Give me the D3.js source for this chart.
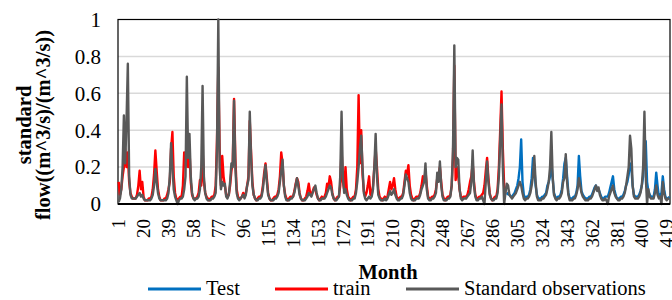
<!DOCTYPE html>
<html>
<head>
  <meta charset="UTF-8">
  <title></title>
  <style>
    body{
      margin:0;
      background:#fff;
    }
    svg text{
      font-family: "Liberation Serif", "Times New Roman", "DejaVu Serif", serif;
    }
    .grid line{
      stroke:#d9d9d9;
      stroke-width:1.5;
    }
    .xlabel, .ylabel{
      font-size:19px;
      fill:#000;
    }
    .series{
      fill:none;
      stroke-width:2.4;
      stroke-linejoin:round;
    }
  </style>
</head>
<body>
  <script src="https://d3js.org/d3.v7.min.js"></script>
  <script>
    // standard observations, months 1..421
    var observed = [
      0.01,0.03,0.08,0.2,0.48,0.22,0.45,0.76,0.15,0.05,0.03,0.03,
      0.03,0.03,0.04,0.05,0.06,0.04,0.05,0.03,0.02,0.02,0.02,0.02,
      0.02,0.03,0.05,0.1,0.19,0.12,0.06,0.03,0.02,0.02,0.02,0.02,
      0.02,0.03,0.06,0.15,0.33,0.2,0.08,0.04,0.02,0.0,0.02,0.03,
      0.03,0.04,0.08,0.15,0.69,0.25,0.38,0.15,0.06,0.03,0.02,0.03,
      0.03,0.04,0.08,0.2,0.64,0.15,0.06,0.03,0.02,0.02,0.02,0.03,
      0.03,0.04,0.06,0.3,1.0,0.2,0.08,0.12,0.1,0.11,0.04,0.03,
      0.05,0.12,0.22,0.2,0.56,0.2,0.06,0.03,0.02,0.03,0.04,0.05,
      0.03,0.05,0.1,0.13,0.5,0.25,0.1,0.05,0.03,0.02,0.02,0.03,
      0.03,0.04,0.08,0.15,0.21,0.12,0.05,0.03,0.02,0.02,0.02,0.03,
      0.03,0.04,0.06,0.12,0.18,0.24,0.1,0.04,0.02,0.02,0.02,0.03,
      0.03,0.04,0.06,0.1,0.14,0.1,0.05,0.03,0.02,0.02,0.02,0.03,
      0.04,0.06,0.05,0.04,0.06,0.08,0.1,0.06,0.03,0.02,0.02,0.03,
      0.03,0.03,0.04,0.06,0.08,0.1,0.09,0.05,0.03,0.02,0.02,0.03,
      0.04,0.15,0.5,0.15,0.06,0.08,0.05,0.03,0.02,0.02,0.02,0.03,
      0.03,0.06,0.12,0.2,0.3,0.37,0.2,0.06,0.03,0.02,0.03,0.04,
      0.03,0.04,0.08,0.2,0.38,0.15,0.05,0.03,0.02,0.02,0.02,0.03,
      0.02,0.03,0.05,0.07,0.05,0.06,0.08,0.05,0.03,0.02,0.02,0.03,
      0.03,0.05,0.1,0.16,0.14,0.12,0.06,0.03,0.02,0.02,0.02,0.03,
      0.03,0.03,0.05,0.08,0.1,0.12,0.22,0.08,0.03,0.02,0.02,0.03,
      0.03,0.04,0.06,0.17,0.12,0.23,0.1,0.04,0.02,0.02,0.02,0.03,
      0.03,0.04,0.1,0.3,0.86,0.2,0.25,0.24,0.08,0.03,0.02,0.03,
      0.03,0.03,0.04,0.05,0.06,0.12,0.29,0.1,0.04,0.02,0.02,0.03,
      0.03,0.04,0.02,0.0,0.12,0.23,0.12,0.05,0.03,0.02,0.02,0.03,
      0.03,0.06,0.15,0.35,0.54,0.2,0.0,0.06,0.11,0.1,0.05,0.04,
      0.03,0.04,0.05,0.06,0.08,0.1,0.12,0.1,0.06,0.03,0.02,0.03,
      0.03,0.04,0.06,0.1,0.15,0.26,0.12,0.04,0.02,0.02,0.02,0.03,
      0.03,0.04,0.05,0.08,0.12,0.2,0.39,0.15,0.05,0.03,0.02,0.03,
      0.03,0.04,0.06,0.12,0.14,0.27,0.12,0.05,0.02,0.02,0.02,0.03,
      0.03,0.05,0.08,0.14,0.1,0.06,0.04,0.03,0.02,0.02,0.02,0.03,
      0.03,0.04,0.06,0.08,0.1,0.07,0.09,0.05,0.03,0.02,0.02,0.03,
      0.02,0.0,0.04,0.06,0.08,0.1,0.06,0.04,0.03,0.02,0.02,0.03,
      0.03,0.04,0.06,0.1,0.15,0.2,0.37,0.3,0.1,0.04,0.03,0.03,
      0.03,0.04,0.06,0.1,0.2,0.5,0.15,0.0,0.08,0.04,0.03,0.03,
      0.03,0.06,0.1,0.05,0.03,0.04,0.0,0.12,0.06,0.03,0.02,0.03,0.03
    ];

    // train fit, months 1..296
    var train = [
      0.12,0.05,0.08,0.15,0.2,0.3,0.2,0.28,0.12,0.06,0.04,0.03,
      0.03,0.03,0.05,0.1,0.18,0.08,0.12,0.04,0.02,0.02,0.02,0.03,
      0.03,0.04,0.08,0.16,0.29,0.18,0.08,0.04,0.02,0.02,0.02,0.03,
      0.03,0.05,0.08,0.12,0.3,0.39,0.15,0.06,0.03,0.02,0.03,0.04,
      0.04,0.1,0.28,0.2,0.35,0.2,0.3,0.12,0.05,0.03,0.03,0.03,
      0.04,0.06,0.13,0.1,0.3,0.12,0.06,0.04,0.03,0.02,0.03,0.04,
      0.04,0.05,0.1,0.35,0.74,0.3,0.1,0.26,0.15,0.1,0.05,0.04,
      0.05,0.1,0.18,0.22,0.57,0.25,0.08,0.04,0.03,0.03,0.04,0.06,
      0.04,0.06,0.1,0.15,0.45,0.28,0.12,0.05,0.03,0.02,0.03,0.04,
      0.04,0.05,0.1,0.17,0.22,0.14,0.06,0.03,0.02,0.02,0.03,0.04,
      0.04,0.05,0.08,0.15,0.28,0.22,0.1,0.05,0.03,0.02,0.03,0.04,
      0.04,0.04,0.07,0.11,0.14,0.12,0.06,0.03,0.02,0.02,0.03,0.04,
      0.07,0.11,0.06,0.05,0.07,0.09,0.08,0.05,0.03,0.02,0.03,0.04,
      0.03,0.04,0.06,0.11,0.09,0.15,0.12,0.06,0.03,0.02,0.03,0.04,
      0.04,0.1,0.3,0.12,0.08,0.2,0.08,0.04,0.03,0.02,0.03,0.04,
      0.04,0.08,0.2,0.59,0.22,0.4,0.16,0.07,0.04,0.06,0.1,0.15,
      0.05,0.05,0.1,0.2,0.3,0.2,0.08,0.04,0.03,0.02,0.03,0.04,
      0.03,0.04,0.08,0.12,0.08,0.1,0.14,0.08,0.04,0.03,0.03,0.04,
      0.04,0.06,0.12,0.18,0.16,0.21,0.1,0.05,0.03,0.02,0.03,0.04,
      0.04,0.04,0.06,0.1,0.15,0.12,0.18,0.1,0.04,0.03,0.03,0.04,
      0.04,0.05,0.08,0.14,0.15,0.2,0.12,0.05,0.03,0.02,0.03,0.04,
      0.04,0.05,0.1,0.25,0.75,0.13,0.2,0.15,0.08,0.04,0.03,0.04,
      0.04,0.04,0.05,0.08,0.12,0.15,0.22,0.12,0.05,0.03,0.03,0.04,
      0.04,0.05,0.06,0.1,0.18,0.25,0.14,0.06,0.03,0.02,0.03,0.04,
      0.04,0.08,0.2,0.4,0.61,0.3,0.1,0.06
    ];

    // test prediction, months 297..421
    var test = [
      0.05,0.06,0.05,0.04,
      0.04,0.05,0.06,0.08,0.1,0.14,0.2,0.35,0.12,0.05,0.03,0.04,
      0.04,0.05,0.08,0.14,0.25,0.2,0.1,0.05,0.03,0.03,0.03,0.04,
      0.04,0.05,0.06,0.1,0.12,0.15,0.22,0.14,0.06,0.04,0.03,0.04,
      0.04,0.05,0.08,0.14,0.22,0.25,0.15,0.06,0.03,0.03,0.03,0.04,
      0.04,0.06,0.1,0.26,0.15,0.07,0.05,0.04,0.03,0.03,0.03,0.04,
      0.04,0.05,0.07,0.09,0.1,0.08,0.08,0.06,0.04,0.03,0.03,0.04,
      0.04,0.04,0.06,0.09,0.12,0.15,0.08,0.05,0.03,0.03,0.03,0.04,
      0.04,0.05,0.07,0.1,0.12,0.16,0.22,0.2,0.1,0.05,0.04,0.04,
      0.04,0.05,0.07,0.1,0.15,0.25,0.34,0.12,0.07,0.05,0.04,0.04,
      0.04,0.08,0.17,0.1,0.04,0.05,0.06,0.15,0.08,0.04,0.03,0.03,0.04
    ];

    var tickMonths = [1,20,39,58,77,96,115,134,153,172,191,210,229,248,267,286,305,324,343,362,381,400,419];
    var yTicks = [0, 0.2, 0.4, 0.6, 0.8, 1];
    var seriesNames = ["Test", "train", "Standard observations"];
    var seriesColors = ["#0070c0", "#ff0000", "#595959"];

    var width = 672, height = 300;
    var plot = {left:118, right:670, top:19.5, bottom:204};

    var months = observed.map(function(d, i) { return i + 1; });

    var x = d3.scaleBand()
              .domain(months)
              .range([plot.left, plot.right]);
    var y = d3.scaleLinear()
              .domain([0, 1])
              .range([plot.bottom, plot.top]);

    function cx(m) { return x(m) + x.bandwidth()/2; }

    var svg = d3.select("body").append("svg")
                .attr("width", width)
                .attr("height", height)
                .style("font-family", "'Liberation Serif', 'Times New Roman', serif");

    // gridlines
    svg.append("g")
        .attr("class", "grid")
        .selectAll("line")
        .data(yTicks.filter(function(d) { return d > 0 && d < 1; }))
        .enter().append("line")
          .attr("x1", plot.left)
          .attr("x2", plot.right)
          .attr("y1", function(d) { return y(d); })
          .attr("y2", function(d) { return y(d); });

    // plot area border
    svg.append("rect")
        .attr("x", plot.left)
        .attr("y", y(1))
        .attr("width", plot.right - plot.left)
        .attr("height", y(0) - y(1))
        .attr("fill", "none")
        .attr("stroke", "#000")
        .attr("stroke-width", 1.2);

    var line = d3.line()
                 .x(function(d) { return cx(d.m); })
                 .y(function(d) { return y(d.v); });

    var testData = test.map(function(v, i) { return {m: train.length + 1 + i, v: v}; });
    var trainData = train.map(function(v, i) { return {m: i + 1, v: v}; });
    var obsData = observed.map(function(v, i) { return {m: i + 1, v: v}; });

    [testData, trainData, obsData].forEach(function(data, i) {
      svg.append("path")
          .datum(data)
          .attr("class", "series")
          .attr("stroke", seriesColors[i])
          .attr("stroke-width", i == 2 ? 2.6 : 2.4)
          .attr("d", line);
    });

    // x axis line
    svg.append("line")
        .attr("x1", plot.left)
        .attr("x2", plot.right)
        .attr("y1", y(0))
        .attr("y2", y(0))
        .attr("stroke", "#000")
        .attr("stroke-width", 2);

    // y tick labels
    svg.append("g").selectAll("text")
        .data(yTicks)
        .enter().append("text")
          .attr("class", "ylabel")
          .attr("x", 101)
          .attr("y", function(d) { return y(d); })
          .attr("dy", "0.35em")
          .attr("text-anchor", "end")
          .style("font-size", "21px")
          .text(function(d) { return d; });

    // x tick labels, rotated
    svg.append("g").selectAll("text")
        .data(tickMonths)
        .enter().append("text")
          .attr("class", "xlabel")
          .attr("transform", function(d) { return "translate(" + cx(d) + ",219) rotate(-90)"; })
          .attr("dy", "0.35em")
          .attr("text-anchor", "end")
          .text(function(d) { return d; });

    // axis titles
    var ytitle = svg.append("text")
        .attr("transform", "translate(0,125) rotate(-90)")
        .attr("text-anchor", "middle")
        .style("font-size", "20.5px")
        .style("font-weight", "bold");
    ytitle.append("tspan").attr("x", 0).attr("y", 31).text("standard");
    ytitle.append("tspan").attr("x", 0).attr("y", 50).text("flow((m^3/s)/(m^3/s))");

    svg.append("text")
        .attr("x", 388)
        .attr("y", 279)
        .attr("text-anchor", "middle")
        .style("font-size", "20.5px")
        .style("font-weight", "bold")
        .text("Month");

    // legend
    var legendPos = [148, 275, 406];
    var legend = svg.append("g").attr("class", "legend");
    seriesNames.forEach(function(name, i) {
      legend.append("line")
          .attr("x1", legendPos[i])
          .attr("x2", legendPos[i] + 53)
          .attr("y1", 289)
          .attr("y2", 289)
          .attr("stroke", seriesColors[i])
          .attr("stroke-width", 3);
      legend.append("text")
          .attr("x", legendPos[i] + 58)
          .attr("y", 295)
          .style("font-size", "20.5px")
          .text(name);
    });
  </script>
</body>
</html>
